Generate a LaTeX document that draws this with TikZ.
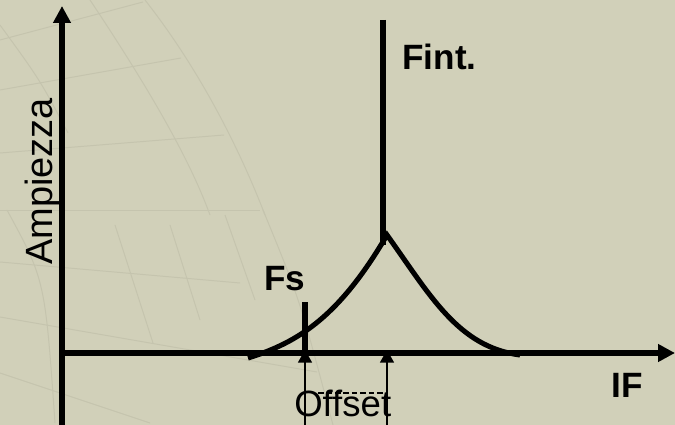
\documentclass[tikz,border=0pt]{standalone}
\usepackage{fontspec}
\setmainfont{Liberation Sans}
\usetikzlibrary{arrows.meta}
\definecolor{slide}{RGB}{209,208,185}
\definecolor{gridline}{RGB}{197,196,174}

\begin{document}
\begin{tikzpicture}[x=0.025cm,y=-0.025cm,
  axis/.style={line width=3.6pt},
  marker/.style={line width=1pt,-{Triangle[length=9pt,width=10pt]}},
  label/.style={inner sep=0pt,font=\bfseries\fontsize{25}{30}\selectfont},
  plain label/.style={inner sep=0pt,font=\fontsize{26}{31}\selectfont}]
  \fill[slide] (0,0) rectangle (675,425);
  \useasboundingbox (0,0) rectangle (675,425);

  % faint background grid
  \begin{scope}[gridline,line width=.7pt]
    \draw (0,40) -- (143,2);
    \draw (0,90) -- (181,58);
    \draw (0,153) -- (224,135);
    \draw (0,210) -- (260,210);
    \draw (0,262) -- (240,283);
    \draw (0,317) -- (317,372);
    \draw (0,373) -- (150,423);
    \draw (0,25) .. controls (40,80) .. (68,133);
    \draw (90,0) .. controls (150,90) and (190,160) .. (210,215);
    \draw (145,0) .. controls (200,70) and (240,150) .. (265,215);
    \draw (7,210) .. controls (45,280) .. (55,423);
    \draw (115,225) -- (153,343);
    \draw (170,225) -- (200,320);
    \draw (225,215) -- (255,300);
    \draw (263,210) .. controls (300,300) .. (333,425);
  \end{scope}

  \coordinate (origin) at (62,353);
  \coordinate (ybottom) at (62,425);
  \coordinate (ytip) at (62,6);
  \coordinate (xtip) at (675,353);
  \coordinate (fintTop) at (383,20);
  \coordinate (fintFoot) at (383,245);
  \coordinate (fsTop) at (305,302);
  \coordinate (fsFoot) at (305,353);
  \coordinate (fsTail) at (305,425);
  \coordinate (fsHead) at (305,350);
  \coordinate (fintTail) at (387,425);
  \coordinate (fintHead) at (387,350);
  \coordinate (offA) at (318,393);
  \coordinate (offB) at (383,393);

  \draw[axis,-{Triangle[length=12pt,width=12pt]}] (ybottom) -- (ytip);
  \draw[axis,-{Triangle[length=12pt,width=12pt]}] (origin) -- (xtip);

  \draw[axis] (fintTop) -- (fintFoot);
  \draw[axis] (fsTop) -- (fsFoot);
  \draw[axis] (248,358) .. controls (300,342) and (340,315) .. (387,235)
    .. controls (430,295) and (458,347) .. (520,355);

  \draw[marker] (fsTail) -- (fsHead);
  \draw[marker] (fintTail) -- (fintHead);
  \draw[line width=.8pt,dash pattern=on 4pt off 2pt] (offA) -- (offB);

  \node[label,anchor=base west] (fint) at (402,70) {Fint.};
  \node[label,anchor=base west] (fs) at (264,290) {Fs};
  \node[label,anchor=base west] (if) at (611,397) {IF};
  \node[plain label,anchor=base west] (offset) at (294,416) {Offset};
  \node[plain label,anchor=base west,rotate=90,font=\fontsize{27}{32}\selectfont]
    (ampiezza) at (52,265) {Ampiezza};
\end{tikzpicture}
\end{document}
